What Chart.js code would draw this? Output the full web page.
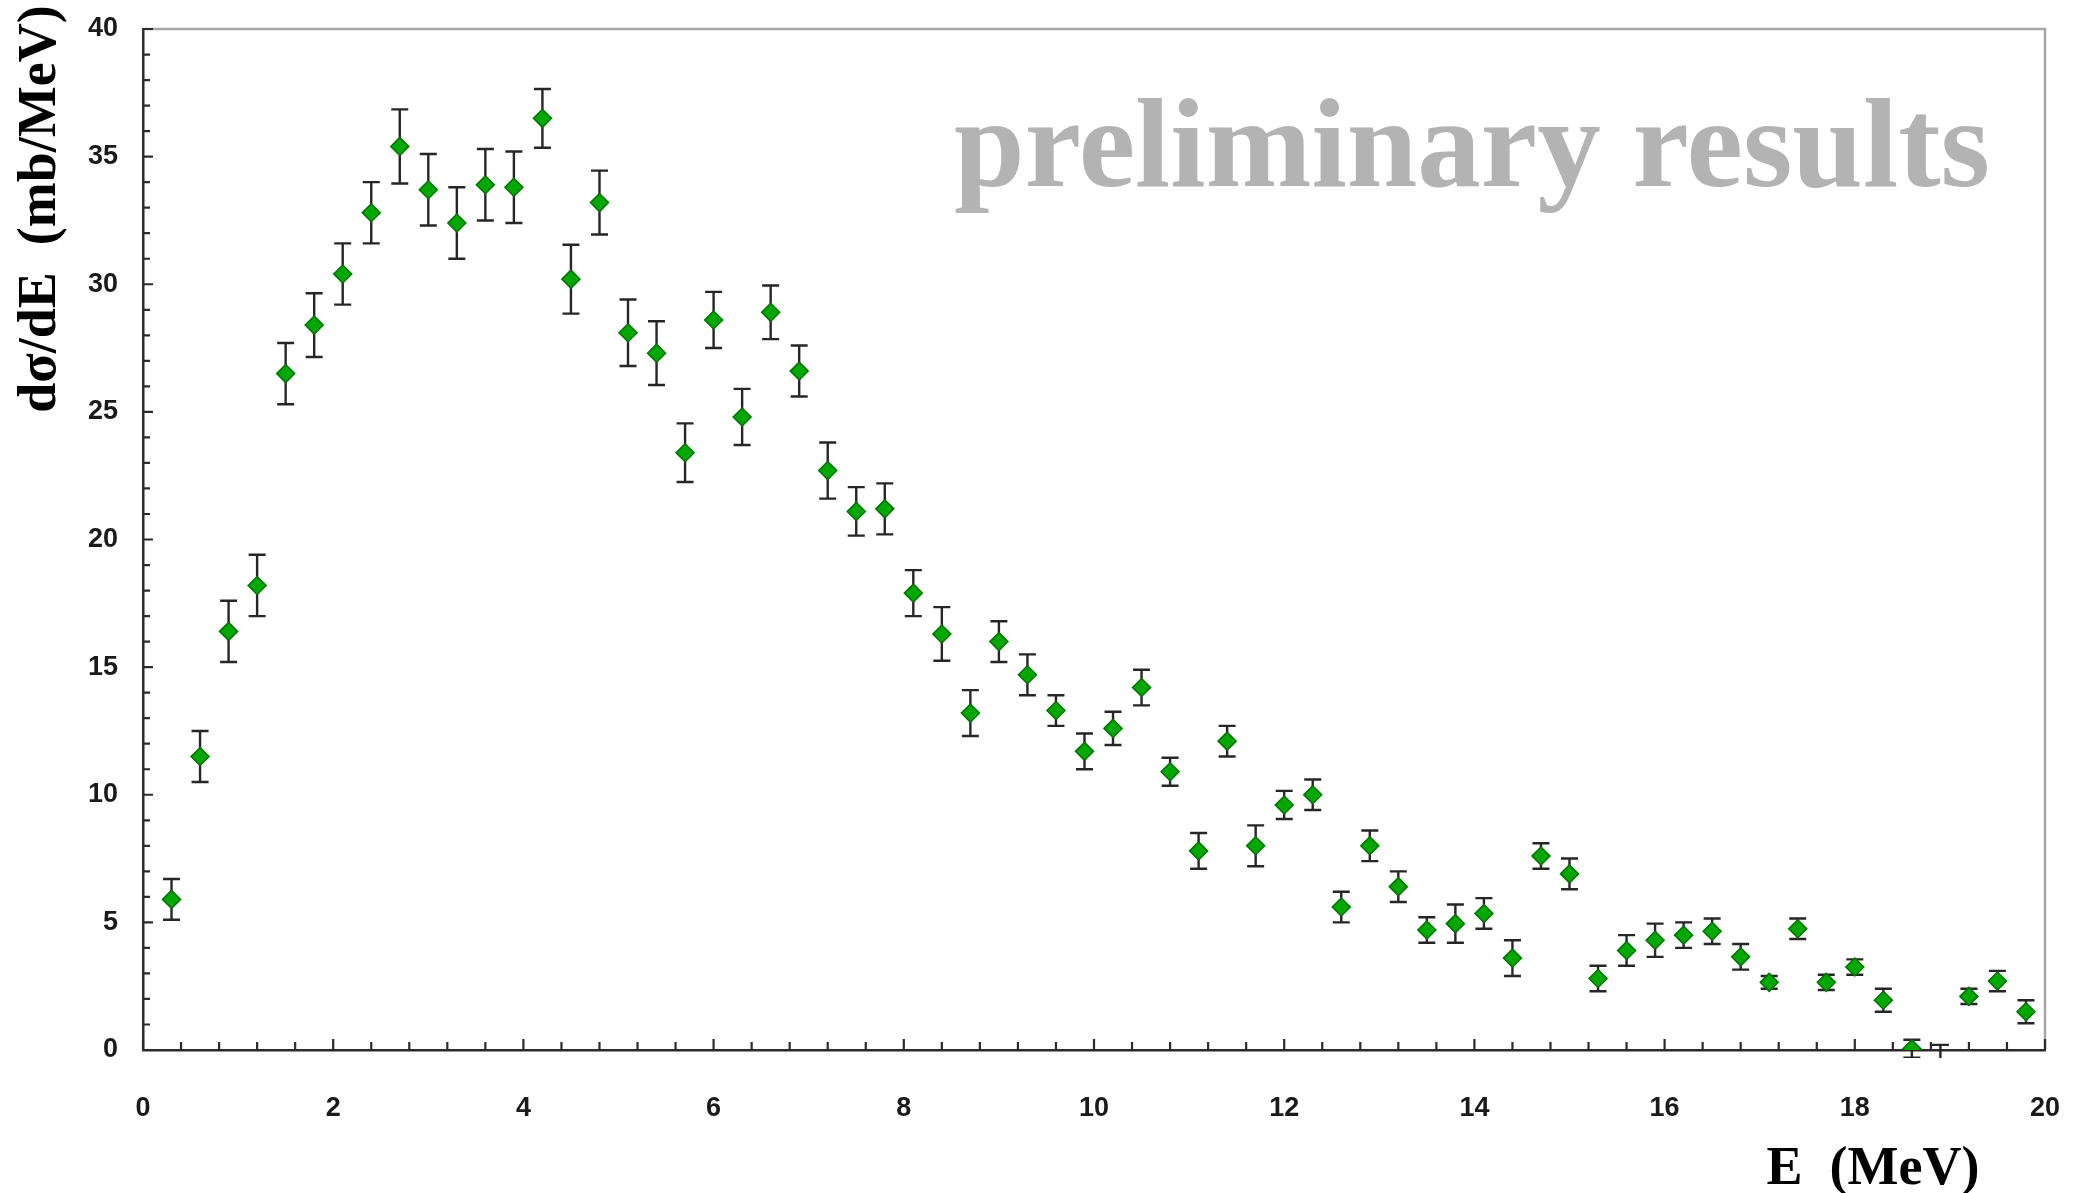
<!DOCTYPE html>
<html lang="en">
<head>
<meta charset="UTF-8">
<title>dσ/dE spectrum</title>
<script src="https://cdn.jsdelivr.net/npm/chart.js"></script>
<style>
    body { margin: 0; background: #fff; }
    #box { width: 2083px; height: 1193px; }
</style>
</head>
<body>
<div id="box"><canvas id="grafico" width="2083" height="1193"></canvas></div>
<script>
    // energies (MeV), cross sections (mb/MeV) and their errors
    const energy = [0.3, 0.6, 0.9, 1.2, 1.5, 1.8, 2.1, 2.4, 2.7, 3.0,
        3.3, 3.6, 3.9, 4.2, 4.5, 4.8, 5.1, 5.4, 5.7, 6.0,
        6.3, 6.6, 6.9, 7.2, 7.5, 7.8, 8.1, 8.4, 8.7, 9.0,
        9.3, 9.6, 9.9, 10.2, 10.5, 10.8, 11.1, 11.4, 11.7, 12.0,
        12.3, 12.6, 12.9, 13.2, 13.5, 13.8, 14.1, 14.4, 14.7, 15.0,
        15.3, 15.6, 15.9, 16.2, 16.5, 16.8, 17.1, 17.4, 17.7, 18.0,
        18.3, 18.6, 18.9, 19.2, 19.5, 19.8];
    const xsec = [5.9, 11.5, 16.4, 18.2, 26.5, 28.4, 30.4, 32.8, 35.4, 33.7,
        32.4, 33.9, 33.8, 36.5, 30.2, 33.2, 28.1, 27.3, 23.4, 28.6,
        24.8, 28.9, 26.6, 22.7, 21.1, 21.2, 17.9, 16.3, 13.2, 16.0,
        14.7, 13.3, 11.7, 12.6, 14.2, 10.9, 7.8, 12.1, 8.0, 9.6,
        10.0, 5.6, 8.0, 6.4, 4.7, 4.95, 5.35, 3.6, 7.6, 6.9,
        2.8, 3.9, 4.3, 4.5, 4.65, 3.65, 2.65, 4.75, 2.65, 3.25,
        1.95, 0.05, -0.1, 2.1, 2.7, 1.5];
    const xsecErr = [0.8, 1.0, 1.2, 1.2, 1.2, 1.25, 1.2, 1.2, 1.45, 1.4,
        1.4, 1.4, 1.4, 1.15, 1.35, 1.25, 1.3, 1.25, 1.15, 1.1,
        1.1, 1.05, 1.0, 1.1, 0.95, 1.0, 0.9, 1.05, 0.9, 0.8,
        0.8, 0.6, 0.7, 0.65, 0.7, 0.55, 0.7, 0.6, 0.8, 0.55,
        0.6, 0.6, 0.6, 0.6, 0.5, 0.75, 0.6, 0.7, 0.5, 0.6,
        0.5, 0.6, 0.65, 0.5, 0.5, 0.5, 0.25, 0.4, 0.3, 0.3,
        0.45, 0.35, 0.3, 0.3, 0.4, 0.45];

    const xTicks = [0, 2, 4, 6, 8, 10, 12, 14, 16, 18, 20];
    const yTicks = [0, 5, 10, 15, 20, 25, 30, 35, 40];

    const xTitle = 'E  (MeV)';
    const yTitle = 'dσ/dE  (mb/MeV)';
    const marca = 'preliminary results';

    let pontos = [];
    for (let i = 0; i < energy.length; i++) {
        pontos.push({ x: energy[i], y: xsec[i], err: xsecErr[i] });
    }

    // error bars under the markers
    const barras = {
        id: 'barras',
        beforeDatasetsDraw(chart) {
            const ctx = chart.ctx;
            const xs = chart.scales.x, ys = chart.scales.y;
            const area = chart.chartArea;
            ctx.save();
            ctx.beginPath();
            ctx.rect(area.left, area.top - 5, area.right - area.left, area.bottom - area.top + 13);
            ctx.clip();
            ctx.strokeStyle = '#262626';
            ctx.lineWidth = 2.4;
            for (let i = 0; i < energy.length; i++) {
                const px = xs.getPixelForValue(energy[i]);
                const top = ys.getPixelForValue(xsec[i] + xsecErr[i]);
                const bot = ys.getPixelForValue(xsec[i] - xsecErr[i]);
                ctx.beginPath();
                ctx.moveTo(px, top); ctx.lineTo(px, bot);
                ctx.moveTo(px - 8.5, top); ctx.lineTo(px + 8.5, top);
                ctx.moveTo(px - 8.5, bot); ctx.lineTo(px + 8.5, bot);
                ctx.stroke();
            }
            ctx.restore();
        }
    };

    // frame, inward ticks, titles and the watermark
    const moldura = {
        id: 'moldura',
        beforeDatasetsDraw(chart) {
            const ctx = chart.ctx;
            ctx.save();
            ctx.fillStyle = '#b3b3b3';
            ctx.font = 'bold 127px "Liberation Serif", "Times New Roman", serif';
            ctx.textAlign = 'left';
            ctx.textBaseline = 'alphabetic';
            ctx.fillText(marca, 954, 186);
            ctx.restore();
        },
        afterDraw(chart) {
            const ctx = chart.ctx;
            const a = chart.chartArea;
            const xs = chart.scales.x, ys = chart.scales.y;
            ctx.save();
            // top and right lines are light grey
            ctx.strokeStyle = '#a6a6a6';
            ctx.lineWidth = 2.5;
            ctx.beginPath();
            ctx.moveTo(a.left, a.top); ctx.lineTo(a.right, a.top); ctx.lineTo(a.right, a.bottom);
            ctx.stroke();

            ctx.strokeStyle = '#2b2b2b';
            ctx.lineWidth = 2.2;
            ctx.beginPath();
            for (let v = 0; v <= 40; v++) {
                const py = ys.getPixelForValue(v);
                const len = v % 5 === 0 ? 10 : 7;
                ctx.moveTo(a.left, py); ctx.lineTo(a.left + len, py);
            }
            for (let k = 0; k <= 50; k++) {
                const v = k * 0.4;
                const px = xs.getPixelForValue(v);
                const len = k % 5 === 0 ? 11 : 8;
                ctx.moveTo(px, a.bottom); ctx.lineTo(px, a.bottom - len);
            }
            ctx.stroke();

            ctx.fillStyle = '#000';
            ctx.font = 'bold 54px "Liberation Serif", "Times New Roman", serif';
            ctx.textAlign = 'center';
            ctx.textBaseline = 'alphabetic';
            ctx.fillText(xTitle, 1873, 1184);
            ctx.translate(55, 209);
            ctx.rotate(-Math.PI / 2);
            ctx.fillText(yTitle, 0, 0);
            ctx.restore();
        }
    };

    const tickFont = { family: '"Liberation Sans", Arial, sans-serif', size: 27, weight: 'bold' };

    new Chart(document.getElementById('grafico').getContext('2d'), {
        type: 'scatter',
        data: {
            datasets: [{
                label: 'dσ/dE',
                data: pontos,
                pointStyle: 'rectRot',
                pointRadius: (c) => (c.raw && c.raw.y < 0 ? 0 : 9),
                pointHoverRadius: 9,
                backgroundColor: '#00a800',
                borderColor: '#007400',
                borderWidth: 1.5
            }]
        },
        options: {
            responsive: false,
            animation: false,
            layout: { padding: { top: 29, right: 38, bottom: 0, left: 0 } },
            plugins: {
                legend: { display: false },
                tooltip: { enabled: false }
            },
            scales: {
                x: {
                    type: 'linear',
                    min: 0,
                    max: 20,
                    afterBuildTicks: (s) => { s.ticks = xTicks.map(v => ({ value: v })); },
                    afterFit: (s) => { s.height = 143; s.paddingLeft = 0; s.paddingRight = 0; },
                    grid: { display: false, drawTicks: false },
                    border: { display: true, color: '#2b2b2b', width: 2.5 },
                    ticks: { color: '#1a1a1a', font: tickFont, padding: 42, maxRotation: 0 }
                },
                y: {
                    type: 'linear',
                    min: 0,
                    max: 40,
                    afterBuildTicks: (s) => { s.ticks = yTicks.map(v => ({ value: v })); },
                    afterFit: (s) => { s.width = 143; s.paddingTop = 0; s.paddingBottom = 0; },
                    grid: { display: false, drawTicks: false },
                    border: { display: true, color: '#2b2b2b', width: 2.5 },
                    ticks: { color: '#1a1a1a', font: tickFont, padding: 25 }
                }
            }
        },
        plugins: [barras, moldura]
    });
</script>
</body>
</html>
